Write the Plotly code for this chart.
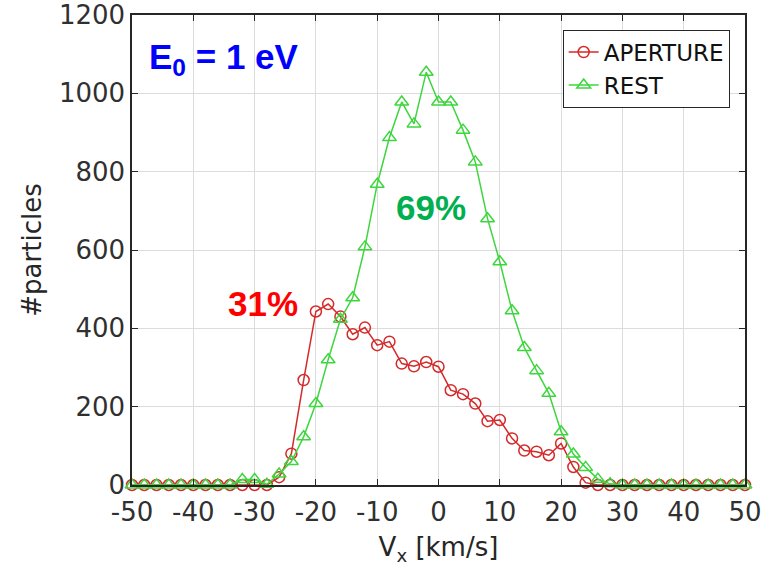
import plotly.graph_objects as go

vx = [-50, -48, -46, -44, -42, -40, -38, -36, -34, -32, -30, -28, -26, -24, -22, -20,
      -18, -16, -14, -12, -10, -8, -6, -4, -2, 0, 2, 4, 6, 8, 10, 12, 14, 16, 18, 20,
      22, 24, 26, 28, 30, 32, 34, 36, 38, 40, 42, 44, 46, 48, 50]

aperture = [0, 0, 0, 0, 0, 0, 0, 0, 0, 0, 0, 0, 20, 80, 268, 443,
            462, 430, 385, 402, 357, 366, 310, 303, 314, 302, 242, 232, 208, 163, 166, 119, 88, 85, 76, 106,
            46, 6, 0, 0, 0, 0, 0, 0, 0, 0, 0, 0, 0, 0, 0]

rest = [0, 0, 0, 0, 0, 0, 0, 0, 0, 14, 14, 2, 28, 60, 123, 208,
        320, 423, 478, 608, 768, 887, 978, 922, 1054, 978, 978, 906, 825, 680, 570, 445, 351, 292, 234, 136,
        79, 45, 15, 3, 0, 0, 0, 0, 0, 0, 0, 0, 0, 0, 0]

x_ticks = [-50, -40, -30, -20, -10, 0, 10, 20, 30, 40, 50]
y_ticks = [0, 200, 400, 600, 800, 1000, 1200]

RED = "#D42A2A"
GREEN = "#3ED63E"
AX = "#262626"
FONT = "DejaVu Sans"

fig = go.Figure()
fig.add_trace(go.Scatter(
    x=vx, y=aperture, name="APERTURE", mode="lines+markers",
    line=dict(color=RED, width=1.5),
    marker=dict(symbol="circle-open", size=11, color=RED, line=dict(width=1.5, color=RED)),
    cliponaxis=False,
))
fig.add_trace(go.Scatter(
    x=vx, y=rest, name="REST", mode="lines+markers",
    line=dict(color=GREEN, width=1.5),
    marker=dict(symbol="triangle-up-open", size=12, color=GREEN, line=dict(width=1.5, color=GREEN)),
    cliponaxis=False,
))

fig.add_annotation(x=-47.6, y=1088, xref="x", yref="y", text="<b>E<sub>0</sub> = 1 eV</b>",
                   showarrow=False, xanchor="left", yanchor="middle",
                   font=dict(family="Liberation Sans", size=35, color="#0000FF"))
fig.add_annotation(x=-28.7, y=464, xref="x", yref="y", text="<b>31%</b>",
                   showarrow=False, xanchor="center", yanchor="middle",
                   font=dict(family="Liberation Sans", size=35, color="#FF0000"))
fig.add_annotation(x=-1.3, y=709, xref="x", yref="y", text="<b>69%</b>",
                   showarrow=False, xanchor="center", yanchor="middle",
                   font=dict(family="Liberation Sans", size=35, color="#00B050"))

axis_common = dict(
    showline=True, linecolor=AX, linewidth=1.5, mirror="ticks",
    ticks="inside", ticklen=6, tickcolor=AX, tickwidth=1.2,
    showgrid=True, gridcolor="#DCDCDC", gridwidth=1,
    zeroline=False, automargin=False,
    tickfont=dict(family=FONT, size=26, color="#303030"),
)

fig.update_xaxes(range=[-50, 50], tickvals=x_ticks, ticktext=[str(t) for t in x_ticks],
                 ticklabelstandoff=3,
                 title=dict(text="V<sub>x</sub> [km/s]", font=dict(family=FONT, size=26, color=AX), standoff=12),
                 **axis_common)
fig.update_yaxes(range=[0, 1200], tickvals=y_ticks, ticktext=[str(t) for t in y_ticks],
                 title=dict(text="#particles", font=dict(family=FONT, size=26, color=AX), standoff=10),
                 **axis_common)

fig.update_layout(
    width=764, height=571,
    margin=dict(l=132, r=19, t=15, b=86),
    paper_bgcolor="white", plot_bgcolor="white",
    showlegend=True,
    legend=dict(x=0.975, y=0.969, xanchor="right", yanchor="top",
                bgcolor="white", bordercolor=AX, borderwidth=1,
                font=dict(family=FONT, size=23, color="#111111"),
                tracegroupgap=0, itemsizing="trace"),
)

fig.write_html("out.html")
